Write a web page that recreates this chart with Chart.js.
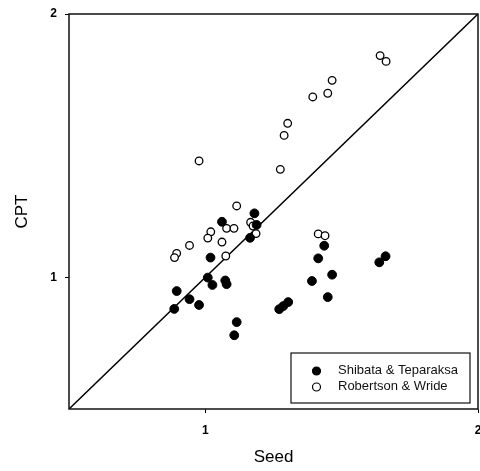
<!DOCTYPE html>
<html>
<head>
<meta charset="utf-8">
<script src="https://cdn.jsdelivr.net/npm/chart.js@4.4.1/dist/chart.umd.min.js"></script>
<style>
  html, body { margin: 0; padding: 0; background: #fff; }
  #wrap { width: 480px; height: 471px; }
</style>
</head>
<body>
<div id="wrap"><canvas id="myChart" width="480" height="471"></canvas></div>
<script>
// Shibata & Teparaksa (filled)
const shibataSeed = [1.180, 1.061, 1.188, 1.164, 1.019, 1.009, 1.026, 1.073, 1.078, 0.895, 0.942, 0.977, 0.886, 1.115, 1.106, 1.436, 1.414, 1.465, 1.391, 1.449, 1.304, 1.286, 1.271, 1.661, 1.638];
const shibataCPT = [1.243, 1.211, 1.199, 1.150, 1.075, 0.999, 0.971, 0.988, 0.974, 0.948, 0.917, 0.895, 0.880, 0.830, 0.780, 1.120, 1.072, 1.010, 0.986, 0.925, 0.906, 0.891, 0.879, 1.080, 1.057];

// Robertson & Wride (open)
const robertsonSeed = [0.977, 1.275, 1.289, 1.302, 1.394, 1.449, 1.465, 1.641, 1.663, 1.115, 1.166, 1.175, 1.186, 1.078, 1.105, 1.020, 1.009, 1.061, 0.942, 0.895, 0.887, 1.075, 1.414, 1.439];
const robertsonCPT = [1.442, 1.410, 1.539, 1.585, 1.685, 1.699, 1.748, 1.842, 1.820, 1.271, 1.209, 1.195, 1.166, 1.186, 1.186, 1.173, 1.149, 1.134, 1.121, 1.091, 1.075, 1.081, 1.165, 1.158];

// 1:1 line and axis
const oneToOne = [0.5, 2];
const tickValues = [1, 2];

const seriesLabels = ["Shibata & Teparaksa", "Robertson & Wride"];

function toPoints(xs, ys) {
  return xs.map((x, i) => ({ x: x, y: ys[i] }));
}

const FONT = "'Liberation Sans', Arial, sans-serif";

// frame around the plot + legend box inside the plot
const frameAndLegend = {
  id: "frameAndLegend",
  afterDatasetsDraw(chart) {
    const { ctx, chartArea: a } = chart;
    ctx.save();
    ctx.strokeStyle = "#111";
    ctx.lineWidth = 1.5;
    ctx.strokeRect(a.left, a.top, a.right - a.left, a.bottom - a.top);

    const bx = a.right - 187, by = a.bottom - 56, bw = 179, bh = 50;
    ctx.fillStyle = "#fff";
    ctx.fillRect(bx, by, bw, bh);
    ctx.lineWidth = 1.2;
    ctx.strokeRect(bx, by, bw, bh);

    ctx.font = "13px " + FONT;
    ctx.textBaseline = "middle";
    const rows = [by + 17, by + 33];
    chart.data.datasets.slice(0, 2).forEach((ds, i) => {
      ctx.beginPath();
      ctx.arc(bx + 25.5, rows[i] + 1, 4, 0, Math.PI * 2);
      ctx.fillStyle = ds.backgroundColor;
      ctx.fill();
      ctx.lineWidth = 1.2;
      ctx.strokeStyle = "#000";
      ctx.stroke();
      ctx.fillStyle = "#111";
      ctx.fillText(ds.label, bx + 47, rows[i]);
    });
    ctx.restore();
  },
};

const ctx = document.getElementById("myChart").getContext("2d");
const myChart = new Chart(ctx, {
  type: "scatter",
  data: {
    datasets: [
      {
        label: seriesLabels[0],
        data: toPoints(shibataSeed, shibataCPT),
        backgroundColor: "#000",
        borderColor: "#000",
        pointRadius: 4.4,
        borderWidth: 1,
      },
      {
        label: seriesLabels[1],
        data: toPoints(robertsonSeed, robertsonCPT),
        backgroundColor: "#fff",
        borderColor: "#000",
        pointRadius: 3.8,
        borderWidth: 1.3,
      },
      {
        label: "1:1",
        data: toPoints(oneToOne, oneToOne),
        showLine: true,
        borderColor: "#000",
        borderWidth: 1.5,
        pointRadius: 0,
      },
    ],
  },
  options: {
    responsive: false,
    animation: false,
    layout: { autoPadding: false, padding: { top: 14, right: 2, left: 0, bottom: 0 } },
    plugins: {
      legend: { display: false },
      tooltip: { enabled: false },
    },
    scales: {
      x: {
        type: "linear",
        min: 0.5,
        max: 2,
        afterBuildTicks: (scale) => {
          scale.ticks = tickValues.map((v) => ({ value: v }));
        },
        afterFit: (scale) => {
          scale.height = 62;
          scale.paddingLeft = 0;
          scale.paddingRight = 0;
        },
        grid: { display: true, drawOnChartArea: false, tickLength: 4, color: "#000" },
        border: { display: false },
        ticks: {
          color: "#000",
          padding: 10,
          maxRotation: 0,
          font: { family: FONT, size: 12, weight: "bold" },
          callback: (v) => String(v),
        },
        title: {
          display: true,
          text: "Seed",
          color: "#000",
          padding: { top: 0, bottom: 3 },
          font: { family: FONT, size: 17 },
        },
      },
      y: {
        type: "linear",
        min: 0.5,
        max: 2,
        afterBuildTicks: (scale) => {
          scale.ticks = tickValues.map((v) => ({ value: v }));
        },
        afterFit: (scale) => {
          scale.width = 69;
          scale.paddingTop = 0;
          scale.paddingBottom = 0;
        },
        grid: { display: true, drawOnChartArea: false, tickLength: 4, color: "#000" },
        border: { display: false },
        ticks: {
          color: "#000",
          padding: 8,
          font: { family: FONT, size: 12, weight: "bold" },
          callback: (v) => String(v),
        },
        title: {
          display: true,
          text: "CPT",
          color: "#000",
          padding: 12,
          font: { family: FONT, size: 17 },
        },
      },
    },
  },
  plugins: [frameAndLegend],
});
</script>
</body>
</html>
